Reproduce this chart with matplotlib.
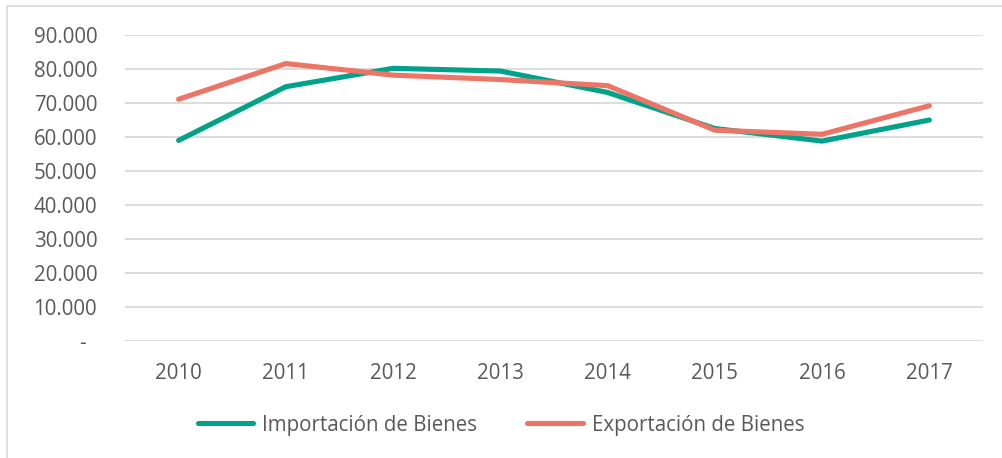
import matplotlib as mpl
mpl.use('Agg')
import matplotlib.pyplot as plt
from matplotlib.patches import Rectangle
from matplotlib.ticker import FixedLocator

years = ['2010', '2011', '2012', '2013', '2014', '2015', '2016', '2017']
importacion = [59000, 74800, 80200, 79400, 73100, 62500, 58800, 65000]
exportacion = [71100, 81600, 78200, 76900, 75100, 62000, 60800, 69200]
yticks = [0, 10000, 20000, 30000, 40000, 50000, 60000, 70000, 80000, 90000]
ylabels = ['-  ', '10.000', '20.000', '30.000', '40.000', '50.000',
           '60.000', '70.000', '80.000', '90.000']

plt.rcParams['font.family'] = ['Open Sans', 'DejaVu Sans']
text_color = '#595959'
fs = 14.8

fig = plt.figure(figsize=(10.02, 4.58), dpi=100)
ax = fig.add_axes([125 / 1002, 117 / 458, 858 / 1002, 306 / 458])

x = list(range(len(years)))
ax.plot(x, importacion, color='#00A38A', lw=3.7, solid_capstyle='round',
        solid_joinstyle='miter', label='Importación de Bienes', zorder=3)
ax.plot(x, exportacion, color='#EC7567', lw=3.7, solid_capstyle='round',
        solid_joinstyle='miter', label='Exportación de Bienes', zorder=4)

ax.set_xlim(-0.5, len(years) - 0.5)
ax.set_ylim(0, 90000)
ax.yaxis.set_major_locator(FixedLocator(yticks))
ax.set_yticklabels(ylabels)
ax.set_xticks(x)
ax.set_xticklabels(years)
ax.grid(axis='y', color='#D9D9D9', lw=1.3)
ax.set_axisbelow(True)
for s in ax.spines.values():
    s.set_visible(False)
ax.tick_params(length=0, labelsize=fs, colors=text_color)
ax.tick_params(axis='x', pad=16)
ax.tick_params(axis='y', pad=20)

fig.legend(loc='center', bbox_to_anchor=(0.5, 1 - 425 / 458), ncol=2,
           frameon=False, fontsize=fs, labelcolor=text_color,
           handlelength=2.7, handletextpad=0.43, columnspacing=2.45)

# chart border
fig.patches.append(Rectangle((7 / 1002, -0.1), 2, 1 - 6 / 458 + 0.1,
                             transform=fig.transFigure, fill=False,
                             edgecolor='#D9D9D9', lw=1.2))

plt.savefig('out.png', dpi=100)
